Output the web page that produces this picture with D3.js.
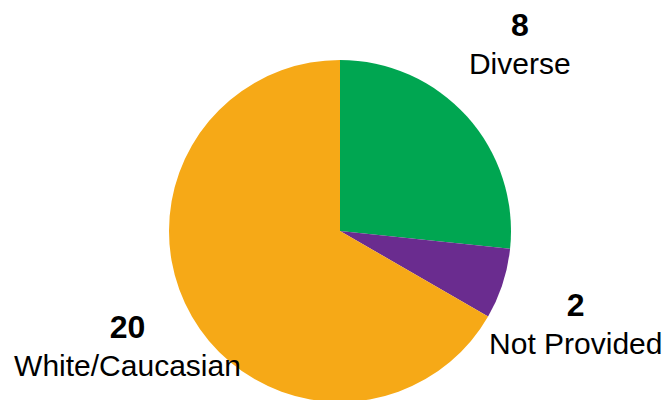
<!DOCTYPE html>
<html>
<head>
<meta charset="utf-8">
<script src="https://cdn.jsdelivr.net/npm/d3@7.9.0/dist/d3.min.js"></script>
<style>
  body { margin: 0; background: #fff; }
  text { font-family: "Liberation Sans", Arial, sans-serif; fill: #000; }
</style>
</head>
<body>
<div id="chart"></div>
<script>
  // Slice data, clockwise from 12 o'clock
  const categories = ["Diverse", "Not Provided", "White/Caucasian"];
  const counts = [8, 2, 20];
  const colors = ["#00a651", "#6a2c8f", "#f6a917"];

  const width = 667;
  const height = 400;
  const cx = 340;
  const cy = 231;
  const radius = 171;

  // small hand nudges for label blocks (PowerPoint-like best fit)
  const nudge = [[-6, -20], [-2, 16], [4, -10]];

  const svg = d3.select("#chart")
    .append("svg")
      .attr("width", width)
      .attr("height", height);

  const g = svg.append("g")
    .attr("transform", `translate(${cx},${cy})`);

  const slices = categories.map((c, i) => ({ name: c, value: counts[i], color: colors[i] }));

  const pie = d3.pie()
    .value(d => d.value)
    .sort(null);

  const arc = d3.arc()
    .innerRadius(0)
    .outerRadius(radius);

  const labelArc = d3.arc()
    .innerRadius(250)
    .outerRadius(250);

  const arcs = pie(slices);

  g.selectAll("path")
    .data(arcs)
    .join("path")
      .attr("d", arc)
      .attr("fill", d => d.data.color);

  const labels = g.selectAll(".label")
    .data(arcs)
    .join("g")
      .attr("class", "label")
      .attr("transform", (d, i) => {
        const [x, y] = labelArc.centroid(d);
        return `translate(${x + nudge[i][0]},${y + nudge[i][1]})`;
      });

  labels.append("text")
    .attr("text-anchor", "middle")
    .attr("y", -8)
    .style("font-size", "32px")
    .style("font-weight", "bold")
    .text(d => d.data.value);

  labels.append("text")
    .attr("text-anchor", "middle")
    .attr("y", 30)
    .style("font-size", "30px")
    .text(d => d.data.name);
</script>
</body>
</html>
